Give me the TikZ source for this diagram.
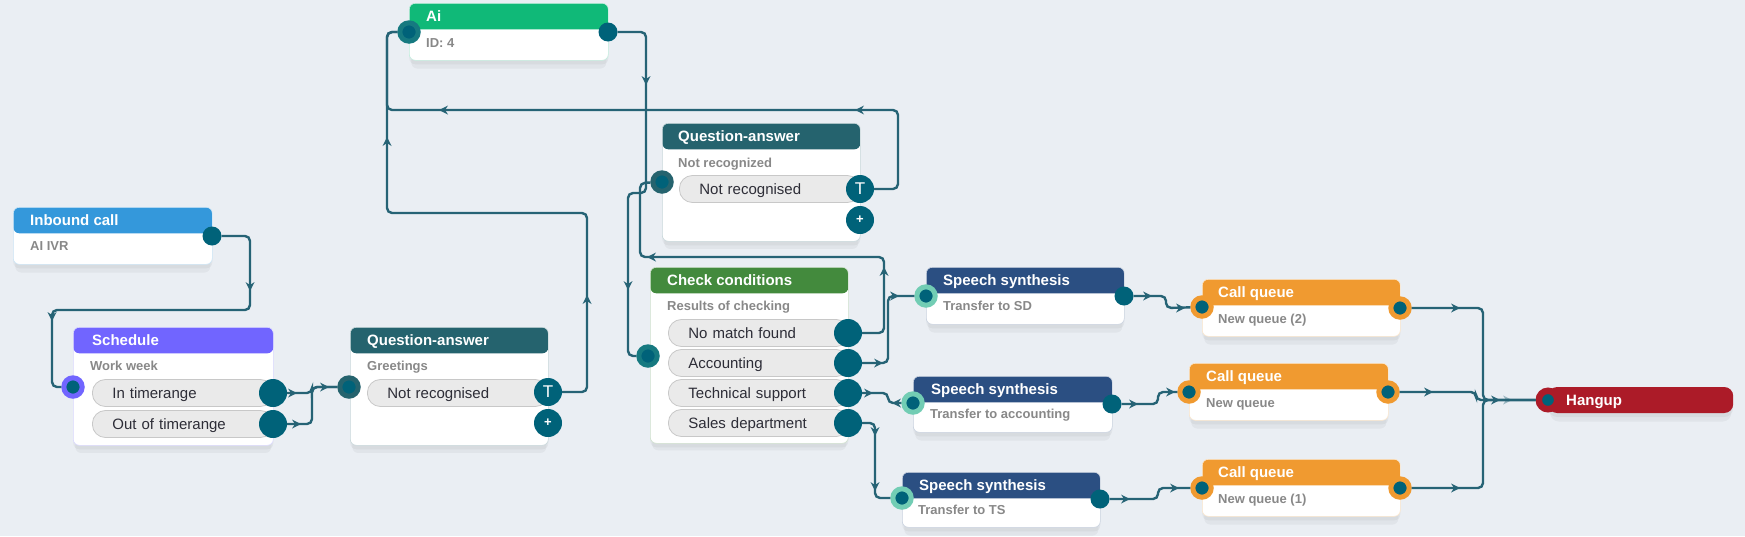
\documentclass[tikz,border=0pt]{standalone}
\usepackage{fontspec}
\setmainfont{Liberation Sans}
\usetikzlibrary{shadows}

\definecolor{bgc}{RGB}{234,238,243}
\definecolor{wirec}{RGB}{38,99,117}
\definecolor{portc}{RGB}{0,98,121}
\definecolor{inbc}{RGB}{52,152,219}
\definecolor{schc}{RGB}{113,101,255}
\definecolor{qac}{RGB}{37,99,110}
\definecolor{aic}{RGB}{16,185,120}
\definecolor{chkc}{RGB}{67,138,61}
\definecolor{sync}{RGB}{43,79,130}
\definecolor{cqc}{RGB}{240,154,48}
\definecolor{hangc}{RGB}{172,27,40}
\definecolor{mintc}{RGB}{114,205,180}
\definecolor{airingc}{RGB}{22,121,128}
\definecolor{pillc}{RGB}{234,234,234}
\definecolor{pilld}{RGB}{200,200,200}
\definecolor{subc}{RGB}{136,136,136}
\definecolor{txtc}{RGB}{45,45,55}

\tikzset{
  soft/.style={general shadow={shadow xshift=0pt, shadow yshift=-4pt, fill=black, opacity=0.04},
    general shadow={shadow xshift=0pt, shadow yshift=-9pt, shadow scale=0.98, fill=black, opacity=0.04}},
  card/.style={rectangle, rounded corners=6pt, fill=white, draw=#1!25, line width=0.6pt,
    inner sep=0pt, anchor=north west, soft,
    path picture={\fill[#1] (path picture bounding box.north west) rectangle ([yshift=-26pt]path picture bounding box.north east);}},
  ttl/.style={anchor=base west, inner sep=0pt, text=white, font=\bfseries\fontsize{15}{18}\selectfont},
  sub/.style={anchor=base west, inner sep=0pt, text=subc, font=\bfseries\fontsize{13}{15}\selectfont},
  pill/.style={rectangle, rounded corners=13pt, fill=pillc, draw=pilld, line width=0.8pt,
    minimum height=27pt, text width=141pt, inner xsep=20pt, inner ysep=0pt,
    text height=10.7pt, text depth=0pt, anchor=west, align=left, text=txtc,
    font=\fontsize{15}{18}\selectfont},
  outport/.style={circle, fill=portc, minimum size=19pt, inner sep=0pt},
  bigport/.style={circle, fill=portc, minimum size=28pt, inner sep=0pt, text=white},
  inport/.style={circle, fill=portc, draw=#1, line width=5pt, minimum size=18.4pt, inner sep=0pt},
  wire/.style={draw=wirec, line width=2.4pt, rounded corners=5pt},
  tip/.pic={\fill[wirec] (1pt,0pt) -- (-8pt,4.5pt) -- (-5pt,0pt) -- (-8pt,-4.5pt) -- cycle;}
}

\begin{document}
\begin{tikzpicture}[x=1pt, y=-1pt]
  \useasboundingbox (0, 0) rectangle (1745, 536);
  \fill[bgc] (0, 0) rectangle (1745, 536);

  % inbound call
  \node[card=inbc, minimum width=199pt, minimum height=57pt] (inb) at (13, 207){};
  \node[ttl] (inbT) at ([shift={(17pt,-18pt)}]inb.north west){Inbound call};
  \node[sub] (inbS) at ([shift={(17pt,-43pt)}]inb.north west){AI IVR};

  % schedule
  \node[card=schc, minimum width=200pt, minimum height=118pt] (sch) at (73, 327){};
  \node[ttl] (schT) at ([shift={(19pt,-18pt)}]sch.north west){Schedule};
  \node[sub] (schS) at ([shift={(17pt,-43pt)}]sch.north west){Work week};
  \node[pill] (schP1) at (92, 393){In timerange};
  \node[pill] (schP2) at (92, 424){Out of timerange};

  % question-answer, greetings
  \node[card=qac, minimum width=198pt, minimum height=118pt] (qa1) at (350, 327){};
  \node[ttl] (qa1T0) at ([shift={(17pt,-18pt)}]qa1.north west){Question-answer};
  \node[sub] (qa1S) at ([shift={(17pt,-43pt)}]qa1.north west){Greetings};
  \node[pill] (qa1P) at (367, 393){Not recognised};

  % ai
  \node[card=aic, minimum width=199pt, minimum height=57pt] (ai) at (409, 3){};
  \node[ttl] (aiT) at ([shift={(17pt,-18pt)}]ai.north west){Ai};
  \node[sub] (aiS) at ([shift={(17pt,-44pt)}]ai.north west){ID: 4};

  % question-answer, not recognized
  \node[card=qac, minimum width=198pt, minimum height=118pt] (qa2) at (662, 123){};
  \node[ttl] (qa2T0) at ([shift={(16pt,-18pt)}]qa2.north west){Question-answer};
  \node[sub] (qa2S) at ([shift={(16pt,-44pt)}]qa2.north west){Not recognized};
  \node[pill] (qa2P) at (679, 189){Not recognised};

  % check conditions
  \node[card=chkc, minimum width=198pt, minimum height=176pt] (chk) at (650, 267){};
  \node[ttl] (chkT) at ([shift={(17pt,-18pt)}]chk.north west){Check conditions};
  \node[sub] (chkS) at ([shift={(17pt,-43pt)}]chk.north west){Results of checking};
  \node[pill] (chkP1) at (668, 333){No match found};
  \node[pill] (chkP2) at (668, 363){Accounting};
  \node[pill] (chkP3) at (668, 393){Technical support};
  \node[pill] (chkP4) at (668, 423){Sales department};

  % speech synthesis
  \node[card=sync, minimum width=198pt, minimum height=57pt] (sd) at (926, 267){};
  \node[ttl] (sdT) at ([shift={(17pt,-18pt)}]sd.north west){Speech synthesis};
  \node[sub] (sdS) at ([shift={(17pt,-43pt)}]sd.north west){Transfer to SD};
  \node[card=sync, minimum width=199pt, minimum height=56pt] (ac) at (913, 376){};
  \node[ttl] (acT) at ([shift={(18pt,-18pt)}]ac.north west){Speech synthesis};
  \node[sub] (acS) at ([shift={(17pt,-42pt)}]ac.north west){Transfer to accounting};
  \node[card=sync, minimum width=198pt, minimum height=55pt] (ts) at (902, 472){};
  \node[ttl] (tsT) at ([shift={(17pt,-18pt)}]ts.north west){Speech synthesis};
  \node[sub] (tsS) at ([shift={(16pt,-42pt)}]ts.north west){Transfer to TS};

  % call queues
  \node[card=cqc, minimum width=198pt, minimum height=57pt] (cq2) at (1202, 279){};
  \node[ttl] (cq2T) at ([shift={(16pt,-18pt)}]cq2.north west){Call queue};
  \node[sub] (cq2S) at ([shift={(16pt,-44pt)}]cq2.north west){New queue (2)};
  \node[card=cqc, minimum width=199pt, minimum height=57pt] (cq) at (1189, 363){};
  \node[ttl] (cqT) at ([shift={(17pt,-18pt)}]cq.north west){Call queue};
  \node[sub] (cqS) at ([shift={(17pt,-44pt)}]cq.north west){New queue};
  \node[card=cqc, minimum width=198pt, minimum height=57pt] (cq1) at (1202, 459){};
  \node[ttl] (cq1T) at ([shift={(16pt,-18pt)}]cq1.north west){Call queue};
  \node[sub] (cq1S) at ([shift={(16pt,-44pt)}]cq1.north west){New queue (1)};

  % hangup
  \node[rectangle, rounded corners=9pt, fill=hangc, minimum width=185pt, minimum height=26pt,
        inner sep=0pt, anchor=west, soft] (hang) at (1548, 400){};
  \node[ttl] (hangT) at (1566, 405){Hangup};

  % ports
  \node[outport] (inbOut) at (212, 236){};
  \node[inport=schc] (schIn) at (73, 387){};
  \node[bigport] (schO1) at (273, 393){};
  \node[bigport] (schO2) at (273, 424){};
  \node[inport=qac] (qa1In) at (349, 387){};
  \node[bigport, font=\fontsize{17}{17}\selectfont] (qa1T) at (548, 392){T};
  \node[bigport, font=\bfseries\fontsize{13}{13}\selectfont] (qa1Add) at (548, 423){+};
  \node[inport=airingc] (aiIn) at (409, 32){};
  \node[outport] (aiOut) at (608, 32){};
  \node[inport=qac] (qa2In) at (662, 182){};
  \node[bigport, font=\fontsize{17}{17}\selectfont] (qa2T) at (860, 189){T};
  \node[bigport, font=\bfseries\fontsize{13}{13}\selectfont] (qa2Add) at (860, 220){+};
  \node[inport=airingc] (chkIn) at (648, 356){};
  \node[bigport] (chkO1) at (848, 333){};
  \node[bigport] (chkO2) at (848, 363){};
  \node[bigport] (chkO3) at (848, 393){};
  \node[bigport] (chkO4) at (848, 423){};
  \node[inport=mintc] (sdIn) at (926, 296){};
  \node[outport] (sdOut) at (1124, 296){};
  \node[inport=mintc] (acIn) at (913, 403){};
  \node[outport] (acOut) at (1112, 404){};
  \node[inport=mintc] (tsIn) at (902, 498){};
  \node[outport] (tsOut) at (1100, 499){};
  \node[inport=cqc] (cq2In) at (1202, 307){};
  \node[inport=cqc] (cq2Out) at (1400, 308){};
  \node[inport=cqc] (cqIn) at (1189, 392){};
  \node[inport=cqc] (cqOut) at (1388, 392){};
  \node[inport=cqc] (cq1In) at (1202, 488){};
  \node[inport=cqc] (cq1Out) at (1400, 488){};
  \node[inport=hangc, line width=6.5pt] (hangIn) at (1548, 400){};

  % connectors
  \draw[wire] (inbOut) -- (250, 236) -- (250, 310) -- (52, 310) -- (52, 387) -- (schIn);
  \draw[wire] (schO1) -- (312, 393) -- (312, 387) -- (qa1In);
  \draw[wire] (schO2) -- (312, 424) -- (312, 387) -- (qa1In);
  \draw[wire] (qa1T) -- (587, 392) -- (587, 213) -- (387, 213) -- (387, 32) -- (aiIn);
  \draw[wire] (qa2T) -- (898, 189) -- (898, 110) -- (387, 110) -- (387, 32) -- (aiIn);
  \draw[wire] (aiOut) -- (646, 32) -- (646, 193) -- (628, 193) -- (628, 356) -- (chkIn);
  \draw[wire] (chkO1) -- (884, 333) -- (884, 257) -- (640, 257) -- (640, 183) -- (qa2In);
  \draw[wire] (chkO2) -- (888, 363) -- (888, 296) -- (sdIn);
  \draw[wire] (chkO3) -- (888, 393) -- (888, 403) -- (acIn);
  \draw[wire] (chkO4) -- (875, 423) -- (875, 498) -- (tsIn);
  \draw[wire] (sdOut) -- (1166, 296) -- (1166, 308) -- (cq2In);
  \draw[wire] (acOut) -- (1158, 404) -- (1158, 392) -- (cqIn);
  \draw[wire] (tsOut) -- (1158, 499) -- (1158, 488) -- (cq1In);
  \draw[wire] (cq2Out) -- (1483, 308) -- (1483, 400) -- (hangIn);
  \draw[wire] (cq1Out) -- (1483, 488) -- (1483, 400) -- (hangIn);
  \draw[wire] (cqOut) -- (1476, 392) -- (1476, 400) -- (hangIn);

  % arrow heads
  \pic[rotate=-90] at (250, 290) {tip};
  \pic[rotate=-90] at (52, 320) {tip};
  \pic at (296, 393) {tip};
  \pic at (300, 424) {tip};
  \pic at (328, 387) {tip};
  \pic[rotate=90] at (587, 296) {tip};
  \pic[rotate=90] at (387, 138) {tip};
  \pic[rotate=180] at (440, 110) {tip};
  \pic[rotate=180] at (856, 110) {tip};
  \pic[rotate=-90] at (646, 84) {tip};
  \pic[rotate=-90] at (628, 289) {tip};
  \pic[rotate=90] at (884, 268) {tip};
  \pic[rotate=180] at (648, 257) {tip};
  \pic at (882, 363) {tip};
  \pic at (898, 296) {tip};
  \pic at (872, 393) {tip};
  \pic[rotate=180] at (893, 403) {tip};
  \pic[rotate=-90] at (875, 435) {tip};
  \pic[rotate=-90] at (875, 490) {tip};
  \pic at (1151, 296) {tip};
  \pic at (1184, 308) {tip};
  \pic at (1137, 404) {tip};
  \pic at (1174, 392) {tip};
  \pic at (1129, 499) {tip};
  \pic at (1178, 488) {tip};
  \pic at (1459, 308) {tip};
  \pic at (1432, 392) {tip};
  \pic at (1459, 488) {tip};
  \pic at (1499, 400) {tip};
  \pic[opacity=0.4] at (1511, 400) {tip};
\end{tikzpicture}
\end{document}
